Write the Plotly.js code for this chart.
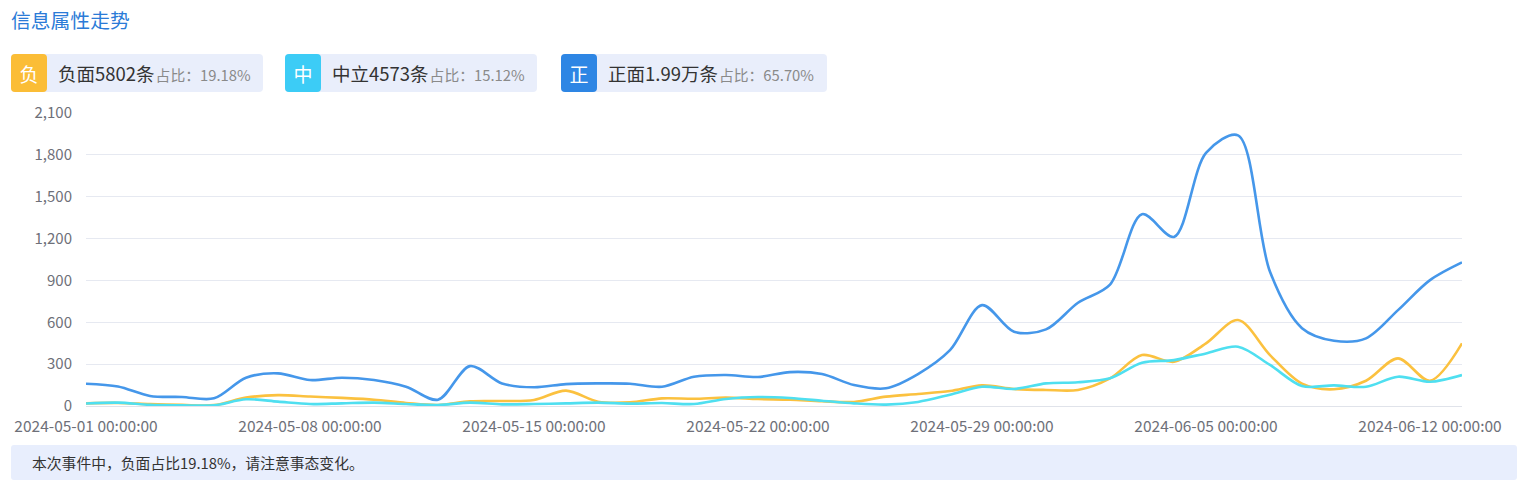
<!DOCTYPE html>
<html>
<head>
<meta charset="utf-8">
<script src="https://cdn.plot.ly/plotly-3.0.1.min.js"></script>
<style>
  html, body { margin: 0; padding: 0; background: #fff; }
  body { width: 1517px; height: 495px; position: relative; overflow: hidden;
         font-family: "Noto Sans CJK SC", "Noto Sans", sans-serif; }
  #chart { position: absolute; left: 0; top: 0; width: 1517px; height: 495px; }
  .title { position: absolute; left: 11px; top: 6px; font-size: 19.8px; color: #2b7bd7; line-height: 28px; }
  .legend { position: absolute; top: 54px; height: 38px; background: #e9eefb; border-radius: 4px;
            display: flex; align-items: center; }
  .icon { width: 36px; height: 38px; border-radius: 4px; color: #fff; font-size: 19px;
          display: flex; align-items: center; justify-content: center; margin-right: 11px; }
  .main { font-size: 18.5px; color: #333; }
  .sub { font-size: 14.8px; color: #8a8a8a; margin-left: 1px; padding-top: 2px; }
  .banner { position: absolute; left: 11px; top: 445px; width: 1506px; height: 35px; background: #e8eefd;
            border-radius: 3px; font-size: 14.8px; color: #333; line-height: 35px; text-indent: 21px; }
</style>
</head>
<body>
<div id="chart"></div>
<div class="title">信息属性走势</div>
<div class="legend" style="left:11px;width:252px;"><div class="icon" style="background:#fbbd36;">负</div><span class="main">负面5802条</span><span class="sub">占比：19.18%</span></div>
<div class="legend" style="left:285px;width:252px;"><div class="icon" style="background:#3cccf6;">中</div><span class="main">中立4573条</span><span class="sub">占比：15.12%</span></div>
<div class="legend" style="left:561px;width:266px;"><div class="icon" style="background:#2e86e4;">正</div><span class="main">正面1.99万条</span><span class="sub">占比：65.70%</span></div>
<div class="banner">本次事件中，负面占比19.18%，请注意事态变化。</div>
<script>
const dates = [
  "2024-05-01","2024-05-02","2024-05-03","2024-05-04","2024-05-05","2024-05-06","2024-05-07","2024-05-08",
  "2024-05-09","2024-05-10","2024-05-11","2024-05-12","2024-05-13","2024-05-14","2024-05-15","2024-05-16",
  "2024-05-17","2024-05-18","2024-05-19","2024-05-20","2024-05-21","2024-05-22","2024-05-23","2024-05-24",
  "2024-05-25","2024-05-26","2024-05-27","2024-05-28","2024-05-29","2024-05-30","2024-05-31","2024-06-01",
  "2024-06-02","2024-06-03","2024-06-04","2024-06-05","2024-06-06","2024-06-07","2024-06-08","2024-06-09",
  "2024-06-10","2024-06-11","2024-06-12","2024-06-13"
];
const positive = [
  160, 140, 72, 65, 55, 203, 234, 186, 203, 186, 138, 45, 286, 162, 134, 157,
  162, 160, 138, 210, 222, 208, 243, 229, 150, 127, 229, 400, 723, 532, 549, 740,
  870, 1375, 1212, 1814, 1940, 962, 558, 468, 485, 687, 902, 1029
];
const negative = [
  19, 22, 14, 8, 6, 60, 78, 68, 58, 45, 22, 7, 34, 36, 43, 110,
  31, 26, 55, 52, 60, 50, 45, 34, 29, 67, 86, 107, 148, 122, 115, 115,
  198, 365, 317, 449, 616, 365, 160, 120, 181, 341, 181, 449
];
const neutral = [
  18, 24, 8, 5, 5, 48, 31, 14, 19, 24, 14, 7, 24, 12, 14, 19,
  24, 17, 21, 14, 50, 64, 57, 38, 19, 10, 29, 81, 138, 122, 162, 170,
  198, 310, 329, 377, 425, 294, 143, 148, 138, 210, 174, 222
];
const tickDates = ["2024-05-01","2024-05-08","2024-05-15","2024-05-22","2024-05-29","2024-06-05","2024-06-12"];
const tickLabels = tickDates.map(d => d + " 00:00:00");
const yTicks = [0, 300, 600, 900, 1200, 1500, 1800, 2100];

const line = (y, color, name) => ({
  x: dates, y: y, type: "scatter", mode: "lines", name: name,
  line: { color: color, width: 2.6, shape: "spline", smoothing: 0.9 },
  hoverinfo: "x+y"
});

const data = [
  line(positive, "#4597ea", "正面"),
  line(negative, "#fbc13f", "负面"),
  line(neutral, "#4fdff0", "中立")
];

const layout = {
  width: 1517, height: 495,
  margin: { l: 86, r: 55, t: 113, b: 89 },
  paper_bgcolor: "rgba(0,0,0,0)", plot_bgcolor: "rgba(0,0,0,0)",
  showlegend: false,
  font: { family: '"Noto Sans CJK SC", "Noto Sans", sans-serif', color: "#6e7079", size: 15.5 },
  xaxis: {
    type: "date",
    range: ["2024-05-01", "2024-06-13"],
    tickvals: tickDates, ticktext: tickLabels,
    showgrid: false, zeroline: false,
    showline: true, linecolor: "#e0e3ea", linewidth: 1,
    ticks: "outside", ticklen: 6, tickcolor: "rgba(0,0,0,0)",
    tickfont: { size: 15.5, color: "#6e7079" }
  },
  yaxis: {
    range: [0, 2100], tickvals: yTicks, tickformat: ",",
    showgrid: true, gridcolor: "#e6e9f1", gridwidth: 1,
    zeroline: false, showline: false,
    ticks: "outside", ticklen: 10, tickcolor: "rgba(0,0,0,0)",
    tickfont: { size: 15, color: "#6e7079" }
  }
};

Plotly.newPlot("chart", data, layout, { displayModeBar: false, staticPlot: true });
</script>
</body>
</html>
